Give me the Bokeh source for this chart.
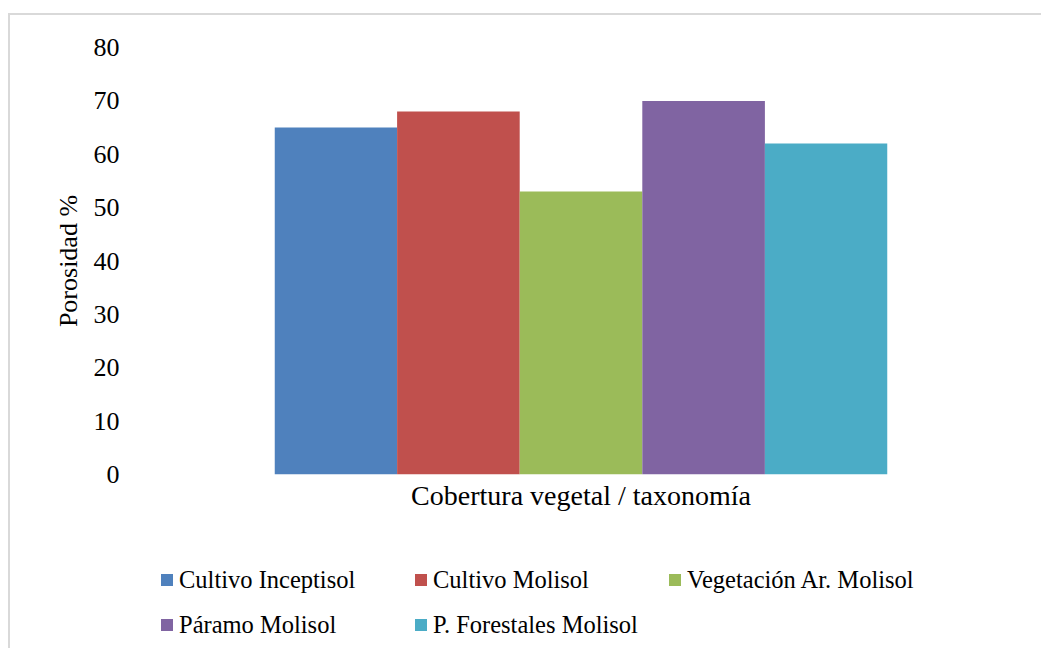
from bokeh.plotting import figure
from bokeh.layouts import column
from bokeh.models import Range1d, FactorRange, FixedTicker, Legend, LegendItem
from bokeh.embed import file_html
from bokeh.resources import INLINE

# ---- data ----
series = ["Cultivo Inceptisol", "Cultivo Molisol", "Vegetación Ar. Molisol",
          "Páramo Molisol", "P. Forestales Molisol"]
values = [65, 68, 53, 70, 62]
colors = ["#4F81BD", "#C0504D", "#9BBB59", "#8064A2", "#4BACC6"]
y_ticks = [0, 10, 20, 30, 40, 50, 60, 70, 80]
x_title = "Cobertura vegetal / taxonomía"
y_title = "Porosidad %"

FONT = "Liberation Serif"

# content origin (inside css border) at page (10, 15)
OX, OY = 10, 15
W = 1031
H1 = 525
H2 = 650 - OY - H1 - 2

p = figure(width=W, height=H1, output_backend="svg", toolbar_location=None,
           x_range=FactorRange(*series, range_padding=0),
           y_range=Range1d(0, 80),
           min_border_left=274 - OX, min_border_right=(OX + W) - 887,
           min_border_top=47 - OY, min_border_bottom=(OY + H1) - 474)
p.frame_align = False
p.outline_line_color = None
p.xgrid.grid_line_color = None
p.ygrid.grid_line_color = None

for name, val, col in zip(series, values, colors):
    p.vbar(x=[name], top=[val], width=1.0, fill_color=col, line_color=None)

# y axis
ya = p.yaxis[0]
ya.ticker = FixedTicker(ticks=y_ticks)
ya.axis_line_color = None
ya.major_tick_line_color = None
ya.minor_tick_line_color = None
ya.major_tick_out = 0
ya.minor_tick_out = 0
ya.major_label_standoff = 155
ya.major_label_text_font = FONT
ya.major_label_text_font_size = "26px"
ya.major_label_text_color = "#000000"
ya.axis_label = y_title
ya.axis_label_text_font = FONT
ya.axis_label_text_font_size = "26px"
ya.axis_label_text_font_style = "normal"
ya.axis_label_text_color = "#000000"
ya.axis_label_standoff = 8

# x axis (single category: no tick labels, only the title)
xa = p.xaxis[0]
xa.ticker = FixedTicker(ticks=[])
xa.axis_line_color = None
xa.major_tick_line_color = None
xa.minor_tick_line_color = None
xa.major_tick_out = 0
xa.minor_tick_out = 0
xa.major_label_standoff = 0
xa.axis_label = x_title
xa.axis_label_text_font = FONT
xa.axis_label_text_font_size = "28px"
xa.axis_label_text_font_style = "normal"
xa.axis_label_text_color = "#000000"
xa.axis_label_standoff = 5

# legend panel (separate figure below the chart)
pl = figure(width=W, height=H2, output_backend="svg", toolbar_location=None,
            x_range=FactorRange(*series), y_range=Range1d(0, 80),
            min_border=0, x_axis_location=None, y_axis_location=None)
pl.frame_align = False
pl.outline_line_color = None
pl.xgrid.grid_line_color = None
pl.ygrid.grid_line_color = None
items = []
for name, val, col in zip(series, values, colors):
    r = pl.vbar(x=[name], top=[val], width=1.0, fill_color=col,
                line_color=None, visible=False)
    items.append(LegendItem(label=name, renderers=[r]))

LEG_TOP = 564.5 - (OY + H1)     # legend top, px from top of legend panel
LEG_H = 75
legend = Legend(items=items, orientation="horizontal", ncols=3,
                location=(159 - OX, H2 - LEG_TOP - LEG_H),
                padding=0, margin=0, spacing=15,
                glyph_width=15, glyph_height=15, label_standoff=5,
                label_width=219, label_height=30,
                label_text_font=FONT, label_text_font_size="24.5px",
                label_text_color="#000000",
                inactive_fill_alpha=0, click_policy="none",
                border_line_color=None, background_fill_alpha=0)
pl.add_layout(legend, "center")

layout = column(p, pl, spacing=0, margin=(13, 0, 0, 8),
                styles={"border-left": "2px solid #D9D9D9",
                        "border-top": "2px solid #D9D9D9"})

open("out.html", "w").write(file_html(layout, INLINE))
